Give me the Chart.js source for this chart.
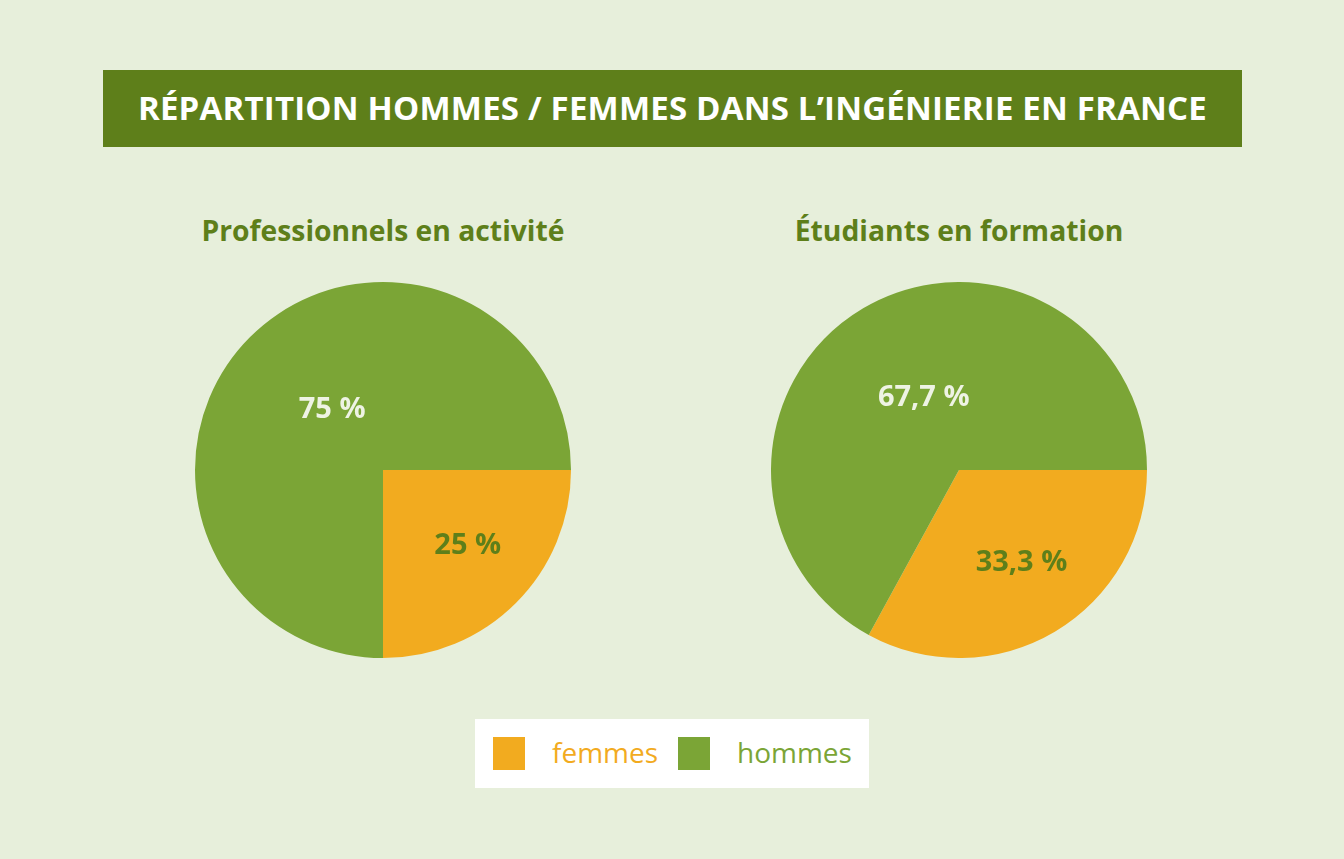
<!DOCTYPE html>
<html lang="fr">
<head>
<meta charset="utf-8">
<title>Répartition hommes / femmes dans l'ingénierie en France</title>
<script src="https://cdn.jsdelivr.net/npm/chart.js@4"></script>
<style>
    html, body { margin: 0; padding: 0; }
    body {
        width: 1344px; height: 859px; position: relative; overflow: hidden;
        background: #e7efdb; font-family: "Open Sans", "Noto Sans", sans-serif;
    }
    .banner {
        position: absolute; left: 103px; top: 68px; width: 1139px; height: 79px;
        background: #5e7f1a; color: #fff; font-weight: 700; font-size: 33px;
        display: flex; align-items: center; justify-content: center; letter-spacing: 0.2px;
    }
    .banner-bg { position: absolute; left: 103px; top: 70px; width: 1139px; height: 77px; background: #5e7f1a; }
    .subtitle {
        position: absolute; top: 211px; width: 500px; text-align: center;
        color: #5e7f1a; font-weight: 700; font-size: 28.3px;
    }
    .pie { position: absolute; top: 282px; width: 376px; height: 376px; }
    .legend {
        position: absolute; left: 475px; top: 719px; width: 394px; height: 69px;
        background: #fff;
    }
    .legend .box { position: absolute; top: 18px; width: 32px; height: 33px; }
    .legend .txt { position: absolute; top: 15px; font-size: 28px; line-height: 36px; }
</style>
</head>
<body>
<div class="banner-bg"></div>
<div class="banner" style="background:transparent">RÉPARTITION HOMMES / FEMMES DANS L’INGÉNIERIE EN FRANCE</div>

<div class="subtitle" id="sub-0" style="left:133px"></div>
<div class="subtitle" id="sub-1" style="left:709px"></div>

<div class="pie" style="left:195px"><canvas id="chart-pro"></canvas></div>
<div class="pie" style="left:771px"><canvas id="chart-etu"></canvas></div>

<div class="legend" id="legend"></div>

<script>
// Data
const categories = ['femmes', 'hommes'];
const chartTitles = ['Professionnels en activité', 'Étudiants en formation'];
const proValues = [25, 75];
const etuValues = [33.3, 67.7];
const colors = ['#f2ab1f', '#7ba536'];

const labelColors = ['#5e7f1a', '#eef3e4'];
const labelRadius = [0.6, 0.42];   // fraction of radius, per slice

function formatPct(v) {
    return String(v).replace('.', ',') + ' %';
}

// Draws the value inside each slice
const sliceLabels = {
    id: 'sliceLabels',
    afterDatasetsDraw(chart) {
        const ctx = chart.ctx;
        const meta = chart.getDatasetMeta(0);
        const data = chart.data.datasets[0].data;
        ctx.save();
        ctx.font = '700 29px "Open Sans", "Noto Sans", sans-serif';
        ctx.textAlign = 'center';
        ctx.textBaseline = 'middle';
        meta.data.forEach((arc, i) => {
            const p = arc.getProps(['x', 'y', 'startAngle', 'endAngle', 'outerRadius'], true);
            const mid = (p.startAngle + p.endAngle) / 2;
            const r = p.outerRadius * labelRadius[i];
            ctx.fillStyle = labelColors[i];
            ctx.fillText(formatPct(data[i]), p.x + Math.cos(mid) * r + 5, p.y + Math.sin(mid) * r - 4);
        });
        ctx.restore();
    }
};

function renderPie(id, values) {
    const ctx = document.getElementById(id).getContext('2d');
    return new Chart(ctx, {
        type: 'pie',
        data: {
            labels: categories,
            datasets: [{
                data: values,
                backgroundColor: colors,
                borderWidth: 0
            }]
        },
        options: {
            responsive: true,
            maintainAspectRatio: false,
            animation: false,
            rotation: 90,
            layout: { padding: 0 },
            plugins: {
                legend: { display: false },
                tooltip: { enabled: false }
            }
        },
        plugins: [sliceLabels]
    });
}

chartTitles.forEach((t, i) => {
    document.getElementById('sub-' + i).textContent = t;
});

renderPie('chart-pro', proValues);
renderPie('chart-etu', etuValues);

// Shared legend
const legendPos = [[18, 77], [203, 262]];
document.getElementById('legend').innerHTML = categories.map((c, i) => `
    <div class="box" style="left:${legendPos[i][0]}px;background:${colors[i]}"></div>
    <div class="txt" style="left:${legendPos[i][1]}px;color:${colors[i]}">${c}</div>
`).join('');
</script>
</body>
</html>
